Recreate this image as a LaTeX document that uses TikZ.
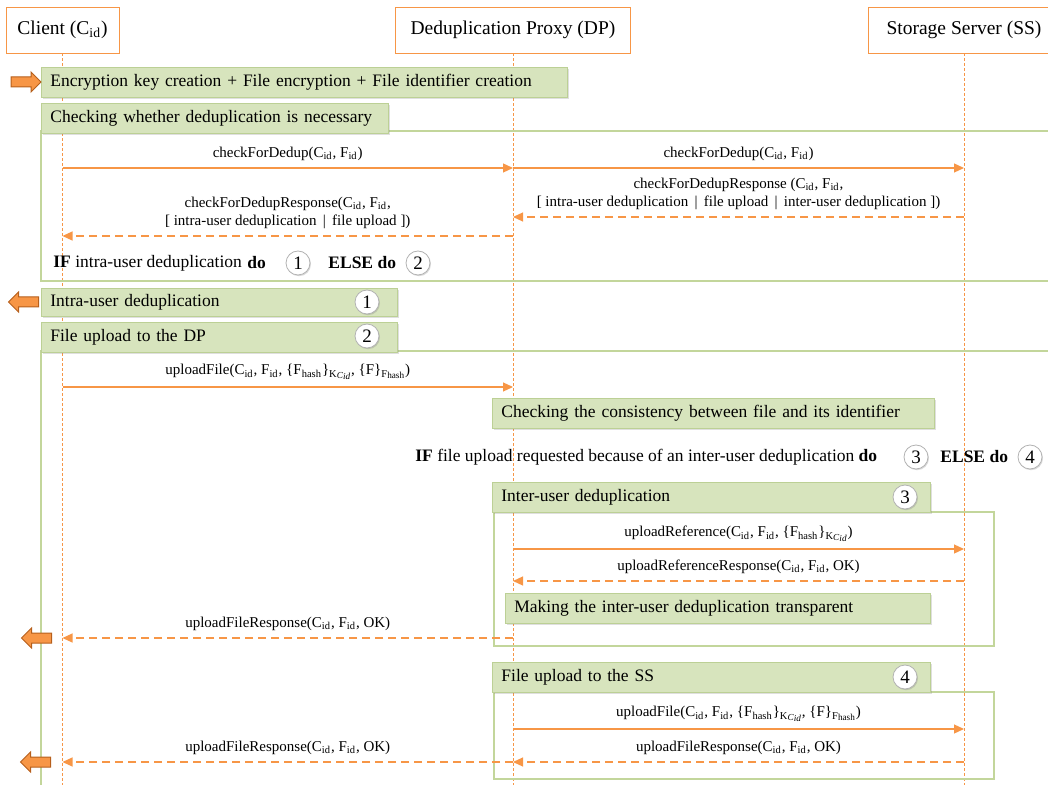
\documentclass[tikz,border=0pt]{standalone}
\usepackage{fontspec}
\setmainfont{Liberation Serif}
\usetikzlibrary{arrows.meta, positioning, shapes.arrows, shadows}
\definecolor{DD_Orange}{HTML}{F79646}
\definecolor{DD_Brown}{HTML}{B65F1C}
\definecolor{DD_Green}{HTML}{D7E4BD}
\definecolor{DD_Border}{HTML}{BCD095}
\definecolor{DD_Line}{HTML}{C3D69B}

\newcommand{\Cid}{C\textsubscript{id}}
\newcommand{\Fid}{F\textsubscript{id}}
\newcommand{\Fh}{F\textsubscript{hash}}
% second level subscripts, kept readable
\newcommand{\KCid}{K\raisebox{-0.3ex}{\fontsize{4.6}{5}\selectfont\textit{C}\raisebox{-0.2ex}{\textit{id}}}}
\newcommand{\Fhs}{F\raisebox{-0.25ex}{\fontsize{4.6}{5}\selectfont hash}}

\begin{document}
\begin{tikzpicture}[x=0.5pt, y=-0.5pt,
    hdr/.style={draw=DD_Orange, fill=white, minimum height=23pt, font=\fontsize{9.75}{11}\selectfont},
    life/.style={DD_Orange, line width=0.4pt, dash pattern=on 1.5pt off 1pt},
    grp/.style={DD_Line, line width=0.6pt},
    gbox/.style={fill=DD_Green, draw=DD_Border, line width=0.4pt, anchor=north west,
        minimum height=15pt, inner xsep=4.5pt, inner ysep=0pt, align=left,
        font=\fontsize{8.75}{10}\selectfont,
        drop shadow={shadow xshift=0.7pt, shadow yshift=-0.7pt, opacity=0.25}},
    numc/.style={circle, draw=black!30, fill=white, minimum size=12pt, inner sep=0pt,
        font=\fontsize{9.5}{10}\selectfont,
        drop shadow={shadow xshift=0.5pt, shadow yshift=-0.6pt, opacity=0.3}},
    cond/.style={font=\fontsize{8.75}{10}\selectfont, inner sep=0pt},
    call/.style={DD_Orange, line width=0.6pt, -{Triangle[length=5pt, width=4.5pt]}},
    reply/.style={call, dash pattern=on 4pt off 2.5pt},
    lbl/.style={above=2pt, inner sep=1.5pt, align=center, text=black,
        font=\fontsize{7.5}{9}\selectfont},
    barrow/.style={single arrow, fill=DD_Orange, draw=DD_Brown, line width=0.5pt,
        minimum height=15pt, single arrow head extend=2.5pt,
        single arrow head indent=0pt, inner xsep=0pt, inner ysep=2.25pt}
]
\useasboundingbox (0,0) rectangle (1048,785);

% participants
\node[hdr, minimum width=56.5pt] (client) at (62.5,30) {Client (\Cid)};
\node[hdr, minimum width=117.5pt] (proxy) at (513,30) {Deduplication Proxy (DP)};
\node[hdr, minimum width=96pt] (storage) at (964,30) {Storage Server (SS)};

% lifelines
\foreach \p in {client, proxy, storage}
    \draw[life] (\p.south) -- (\p.south |- 0,785);

% message rows on the lifelines
\foreach \r/\y in {a/168, b/217, c/236, d/387, e/549, f/581, g/638, h/729, i/762}
    \foreach \p/\q in {client/C, proxy/P, storage/S}
        \coordinate (\q\r) at (\p |- 0,\y);

% frames
\draw[grp] (41,131) rectangle (1060,281);
\draw[grp] (41,351) rectangle (1060,800);
\draw[grp] (494,512) rectangle (994,646);
\draw[grp] (494,692) rectangle (994,779);

% steps
\node[gbox, text width=254pt] (keys) at (41,67) {Encryption key creation + File encryption + File identifier creation};
\node[gbox, text width=164.5pt] (check) at (41,103) {Checking whether deduplication is necessary};
\node[gbox, text width=169pt, minimum height=14pt] (intra) at (41,288) {Intra-user deduplication};
\node[gbox, text width=169pt] (todp) at (41,322) {File upload to the DP};
\node[gbox, text width=212pt] (consist) at (492,398) {Checking the consistency between file and its identifier};
\node[gbox, text width=210pt] (inter) at (492,482) {Inter-user deduplication};
\node[gbox, text width=203.5pt] (transp) at (505,593) {Making the inter-user deduplication transparent};
\node[gbox, text width=210pt] (toss) at (492,662) {File upload to the SS};

% conditions
\node[cond, anchor=west] (if1) at (53,263) {\textbf{IF} intra-user deduplication};
\node[cond, anchor=west] (do1) at (247,263) {\textbf{do}};
\node[numc] (n1a) at (298,263) {1};
\node[cond, anchor=west] (else1) at (328,263) {\textbf{ELSE do}};
\node[numc] (n2a) at (418,263) {2};
\node[numc] (n1b) at (367,302) {1};
\node[numc] (n2b) at (367,336) {2};
\node[cond, anchor=west] (if2) at (415,457) {\textbf{IF} file upload requested because of an inter-user deduplication \textbf{do}};
\node[numc] (n3a) at (916,457) {3};
\node[cond, anchor=west] (else2) at (940,457) {\textbf{ELSE do}};
\node[numc] (n4a) at (1030,457) {4};
\node[numc] (n3b) at (905,497) {3};
\node[numc] (n4b) at (905,677) {4};

% start / return markers
\node[barrow] (go) at (23.5,82) {};
\node[barrow, shape border rotate=180] (back1) at (26,302) {};
\node[barrow, shape border rotate=180] (back2) at (39,638) {};
\node[barrow, shape border rotate=180] (back3) at (38,762) {};

% messages
\draw[call] (Ca) -- node[lbl] {checkForDedup(\Cid, \Fid)} (Pa);
\draw[call] (Pa) -- node[lbl] {checkForDedup(\Cid, \Fid)} (Sa);
\draw[reply] (Sb) -- node[lbl] {checkForDedupResponse (\Cid, \Fid,\\ {[} intra-user deduplication \,|\, file upload \,|\, inter-user deduplication ])} (Pb);
\draw[reply] (Pc) -- node[lbl] {checkForDedupResponse(\Cid, \Fid,\\ {[} intra-user deduplication \,|\, file upload ])} (Cc);
\draw[call] (Cd) -- node[lbl] {uploadFile(\Cid, \Fid, \{\Fh\}\textsubscript{\KCid}, \{F\}\textsubscript{\Fhs})} (Pd);
\draw[call] (Pe) -- node[lbl] {uploadReference(\Cid, \Fid, \{\Fh\}\textsubscript{\KCid})} (Se);
\draw[reply] (Sf) -- node[lbl] {uploadReferenceResponse(\Cid, \Fid, OK)} (Pf);
\draw[reply] (Pg) -- node[lbl] {uploadFileResponse(\Cid, \Fid, OK)} (Cg);
\draw[call] (Ph) -- node[lbl] {uploadFile(\Cid, \Fid, \{\Fh\}\textsubscript{\KCid}, \{F\}\textsubscript{\Fhs})} (Sh);
\draw[reply] (Si) -- node[lbl] {uploadFileResponse(\Cid, \Fid, OK)} (Pi);
\draw[reply] (Pi) -- node[lbl] {uploadFileResponse(\Cid, \Fid, OK)} (Ci);
\end{tikzpicture}
\end{document}
